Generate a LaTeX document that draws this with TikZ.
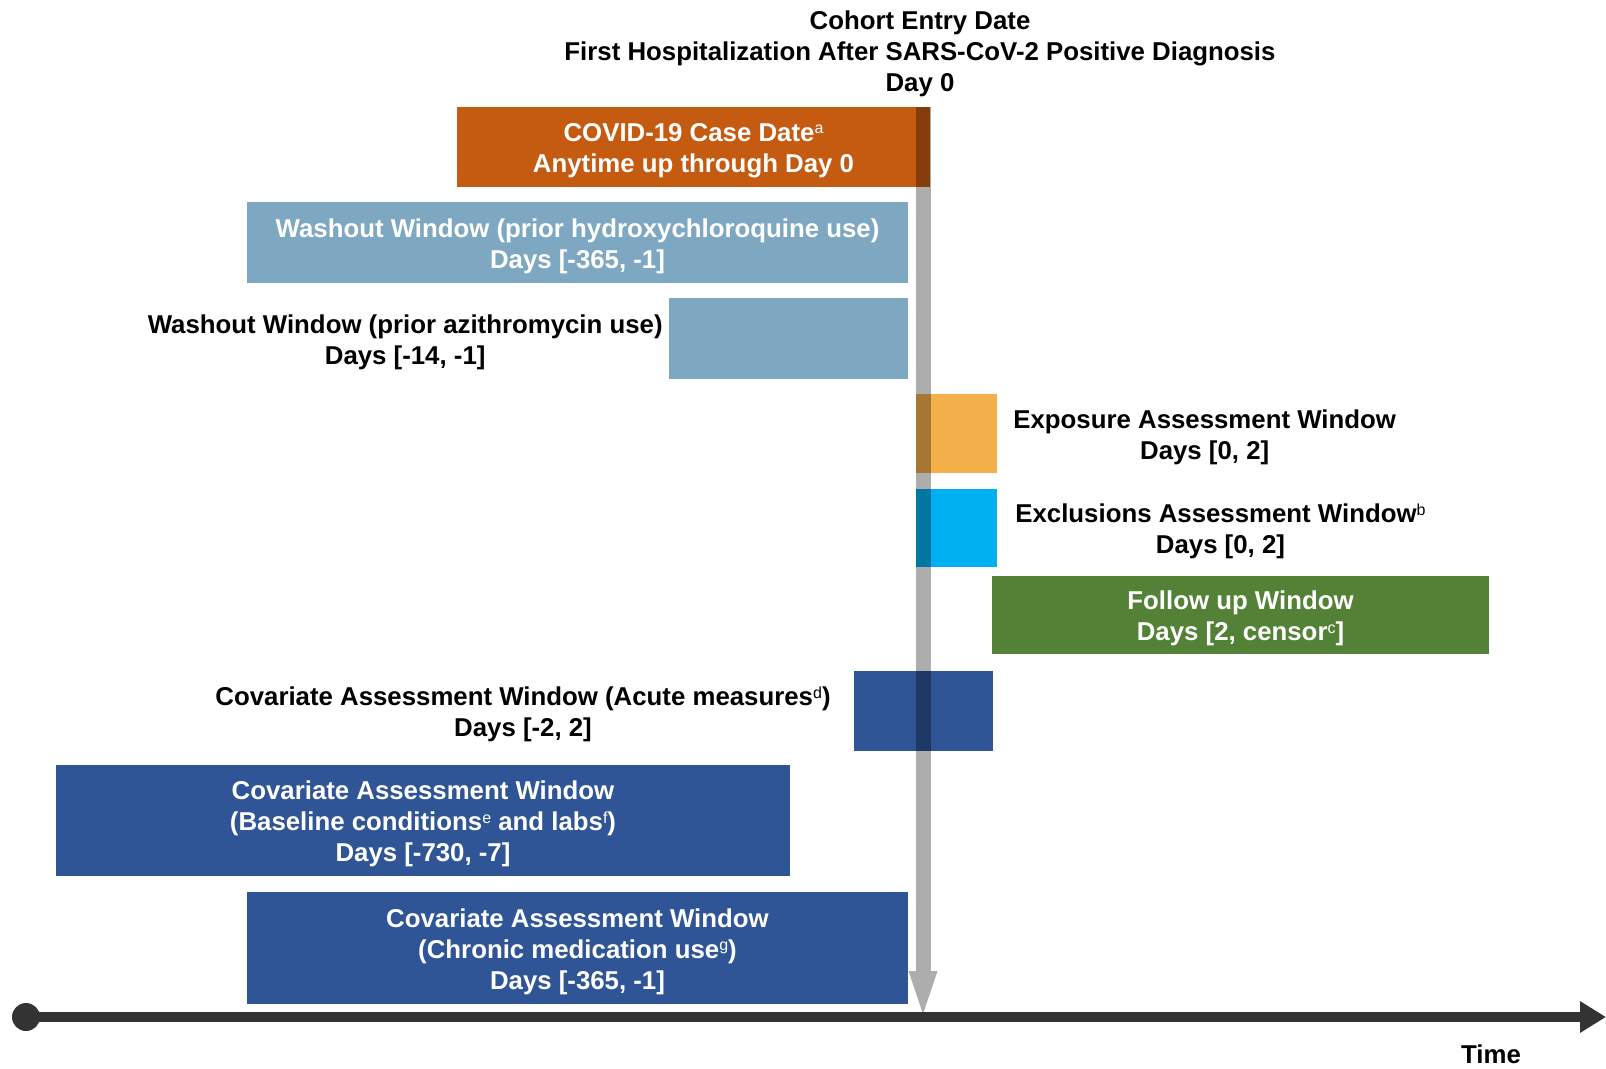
\documentclass[tikz,border=0pt]{standalone}
\usepackage{fontspec}
\setmainfont{Liberation Sans}
\usetikzlibrary{positioning,arrows.meta}
\definecolor{casecol}{HTML}{C55A11}
\definecolor{washcol}{HTML}{7EA8C1}
\definecolor{expocol}{HTML}{F4B04B}
\definecolor{exclcol}{HTML}{00B0F0}
\definecolor{followcol}{HTML}{538135}
\definecolor{covcol}{HTML}{2F5597}
\definecolor{daycol}{HTML}{ADADAD}
\definecolor{axiscol}{HTML}{333333}
\newcommand{\supnote}[1]{\raisebox{7.5pt}{\fontsize{16}{16}\selectfont\mdseries #1}}

\begin{document}
\begin{tikzpicture}[x=1pt,y=-1pt,
    font=\fontsize{25.8}{31}\selectfont\bfseries,
    win/.style={inner sep=0pt},
    wintxt/.style={inner sep=0pt, align=center, text=white, yshift=-3.5pt},
    lbl/.style={inner sep=0pt, align=center, yshift=-3.5pt},
    dayline/.style={daycol, line width=15pt, blend mode=multiply,
        -{Triangle[length=43pt,width=29pt,line width=0pt]}},
    timeline/.style={axiscol, line width=10pt, -{Triangle[length=26pt,width=30pt]}}]
    \useasboundingbox (0,0) rectangle (1606,1068);

    \node[lbl] (entry) at (920,50) {Cohort Entry Date\\First Hospitalization After SARS-CoV-2 Positive Diagnosis\\Day 0};

    % windows
    \node[win, fill=casecol, minimum width=473pt, minimum height=80.5pt] (case) at (693.5,146.75) {};
    \node[win, fill=washcol, minimum width=661pt, minimum height=81pt] (hcq) at (577.5,242.5) {};
    \node[win, fill=washcol, minimum width=239pt, minimum height=81pt] (azi) at (788.5,338.5) {};
    \node[win, fill=expocol, minimum width=81pt, minimum height=79pt] (expo) at (956.5,433.5) {};
    \node[win, fill=exclcol, minimum width=81pt, minimum height=78pt] (excl) at (956.5,528) {};
    \node[win, fill=followcol, minimum width=497pt, minimum height=78pt] (follow) at (1240.5,615) {};
    \node[win, fill=covcol, minimum width=139pt, minimum height=80pt] (acute) at (923.5,711) {};
    \node[win, fill=covcol, minimum width=734pt, minimum height=111pt] (base) at (423,820.5) {};
    \node[win, fill=covcol, minimum width=661pt, minimum height=112pt] (chron) at (577.5,948) {};

    % texts in the windows
    \node[wintxt] (casetxt) at (case) {COVID-19 Case Date\supnote{a}\\Anytime up through Day 0};
    \node[wintxt] (hcqtxt) at (hcq) {Washout Window (prior hydroxychloroquine use)\\Days [-365, -1]};
    \node[wintxt] (followtxt) at (follow) {Follow up Window\\Days [2, censor\supnote{c}]};
    \node[wintxt] (basetxt) at (base)
        {Covariate Assessment Window\\(Baseline conditions\supnote{e} and labs\supnote{f})\\Days [-730, -7]};
    \node[wintxt] (chrontxt) at (chron)
        {Covariate Assessment Window\\(Chronic medication use\supnote{g})\\Days [-365, -1]};

    % labels beside the small windows
    \node[lbl, left=6pt of azi] (azilbl) {Washout Window (prior azithromycin use)\\Days [-14, -1]};
    \node[lbl, right=16pt of expo] (expolbl) {Exposure Assessment Window\\Days [0, 2]};
    \node[lbl, right=18pt of excl] (excllbl) {Exclusions Assessment Window\supnote{b}\\Days [0, 2]};
    \node[lbl, left=23pt of acute] (acutelbl) {Covariate Assessment Window (Acute measures\supnote{d})\\Days [-2, 2]};

    % day 0 and time axis
    \coordinate (d0top) at (923,106.5);
    \coordinate (d0end) at (923,1014);
    \draw[dayline] (d0top) -- (d0end);

    \node[circle, fill=axiscol, minimum size=28pt, inner sep=0pt] (t0) at (26,1017) {};
    \coordinate (tend) at (1606,1017);
    \draw[timeline] (t0.center) -- (tend);
    \node[inner sep=0pt] (time) at (1491,1054) {Time};
\end{tikzpicture}
\end{document}
